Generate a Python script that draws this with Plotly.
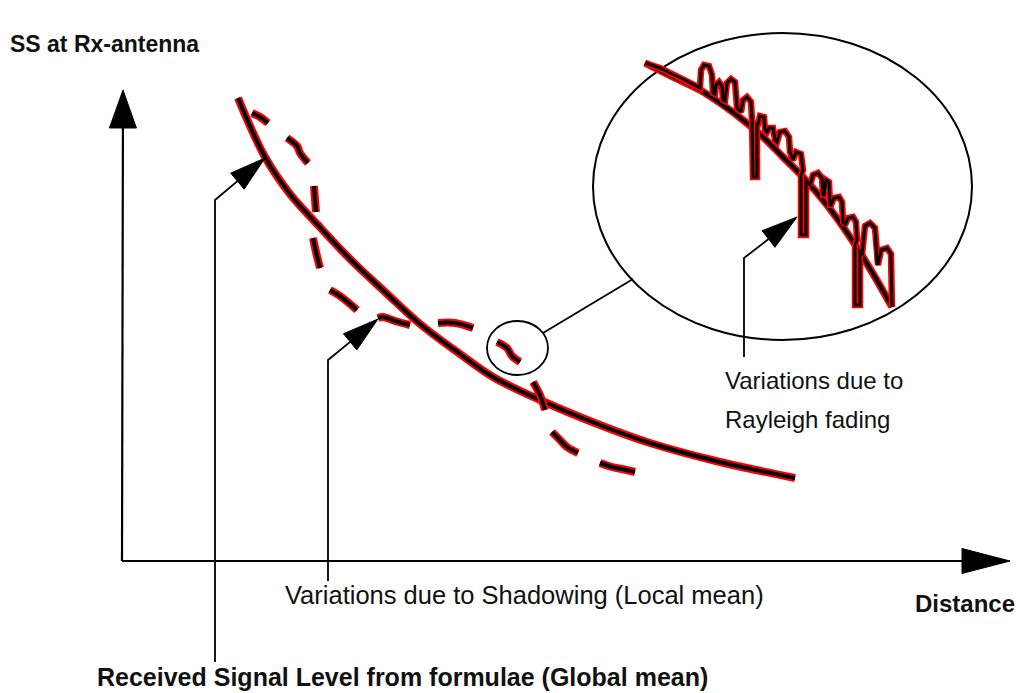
import numpy as np
import plotly.graph_objects as go

# ---- signal level curves (page coordinates: x to the right, y downward) ----
global_mean_x = [238, 265, 290, 317, 350, 385, 420, 460, 493, 540, 600, 650, 720, 795]
global_mean_y = [98, 157, 194, 224, 259, 292, 324, 354, 377, 400, 425, 443, 462, 478]

# local mean (shadowing), drawn as separate dashes
local_mean_x = [252, 260, 268, None,
                287, 297, 300, 308, None,
                314, 315, 316, None,
                313, 316, 320, None,
                330, 340, 357, None,
                378, 383, 395, 410, None,
                438, 455, 473, None,
                497, 507, 512, 520, None,
                533, 540, 545, None,
                552, 560, 567, 578, None,
                600, 612, 622, 635]
local_mean_y = [113, 117, 123, None,
                138, 146, 153, 163, None,
                186, 200, 212, None,
                238, 252, 268, None,
                290, 296, 310, None,
                318, 317, 321, 325, None,
                323, 323, 328, None,
                342, 348, 356, 362, None,
                382, 395, 410, None,
                432, 440, 447, 453, None,
                463, 467, 469, 472]

# magnified section: mean and fast (Rayleigh) fading
inset_mean_x = [645, 673, 700, 723, 743, 763, 783, 803, 827, 850, 872, 892]
inset_mean_y = [63, 77, 90, 105, 120, 137, 157, 177, 205, 237, 272, 307]

fading_x = [645, 660, 672, 685, 700,
            701, 704, 709, 712, 713,
            715, 716, 719, 722, 723,
            725, 727, 731, 735, 737,
            741, 743, 747, 751, 752,
            752, 753, 757, 757,
            758, 760, 764, 765,
            767, 769, 773, 775,
            777, 780, 785, 789, 790,
            793, 796, 801, 803,
            801, 801, 806, 806,
            810, 813, 818, 822, 823,
            824, 826, 829, 830,
            831, 834, 839, 842, 843,
            845, 848, 853, 856, 857,
            855, 855, 860, 860,
            862, 865, 870, 875, 877,
            878, 881, 887, 891, 892]
fading_y = [63, 68, 74, 80, 88,
            70, 65, 66, 75, 93,
            94, 85, 82, 86, 100,
            101, 83, 79, 82, 108,
            112, 100, 97, 102, 118,
            120, 177, 177, 124,
            124, 116, 117, 130,
            132, 128, 128, 140,
            142, 132, 131, 137, 152,
            160, 152, 154, 170,
            175, 235, 235, 180,
            185, 175, 173, 178, 195,
            195, 180, 182, 205,
            205, 198, 197, 202, 222,
            225, 218, 217, 222, 240,
            245, 305, 305, 250,
            255, 226, 223, 228, 262,
            265, 250, 248, 254, 307]

# ---- axes and pointer arrows: polyline vertices, last vertex is the tip ----
axis_y_path = ([122, 123], [561, 90])
axis_x_path = ([122, 1010], [561, 561])
pointer_global = ([215, 215, 265], [662, 200, 158])
pointer_local = ([328, 328, 378], [581, 360, 319])
pointer_fading = ([744, 744, 797], [357, 258, 217])

# arrowhead (length, half width) per arrow
head_axis_y = (38, 13.5)
head_axis_x = (48, 12.5)
head_pointer = (36, 10.5)

FONT = "Liberation Sans, Arial, sans-serif"
RED = "#ff0000"

fig = go.Figure()


def outlined(x, y, core, halo, shape="linear"):
    """Black stroke with a red halo."""
    fig.add_trace(go.Scatter(x=x, y=y, mode="lines", connectgaps=False,
                             line=dict(color=RED, width=halo, shape=shape),
                             hoverinfo="skip"))
    fig.add_trace(go.Scatter(x=x, y=y, mode="lines", connectgaps=False,
                             line=dict(color="black", width=core, shape=shape),
                             hoverinfo="skip"))


def arrow(path, head, width):
    xs, ys = path
    tip = np.array([xs[-1], ys[-1]], float)
    prev = np.array([xs[-2], ys[-2]], float)
    d = (tip - prev) / np.linalg.norm(tip - prev)
    n = np.array([-d[1], d[0]])
    length, half = head
    base = tip - d * length
    fig.add_trace(go.Scatter(x=list(xs[:-1]) + [base[0]], y=list(ys[:-1]) + [base[1]],
                             mode="lines", line=dict(color="black", width=width),
                             hoverinfo="skip"))
    tri = [tip, base + n * half, base - n * half, tip]
    fig.add_trace(go.Scatter(x=[p[0] for p in tri], y=[p[1] for p in tri],
                             mode="lines", fill="toself", fillcolor="black",
                             line=dict(color="black", width=1), hoverinfo="skip"))


# axes
arrow(axis_y_path, head_axis_y, 2.2)
arrow(axis_x_path, head_axis_x, 2.2)

# curves
outlined(global_mean_x, global_mean_y, 4, 8, "spline")
outlined(local_mean_x, local_mean_y, 4, 8, "spline")
outlined(inset_mean_x, inset_mean_y, 4, 7.5, "spline")
outlined(fading_x, fading_y, 3, 6.5)

# pointers
arrow(pointer_global, head_pointer, 1.8)
arrow(pointer_local, head_pointer, 1.8)
arrow(pointer_fading, head_pointer, 1.8)

# magnifier: small circle, connector and large circle
shapes = [
    dict(type="circle", x0=487, x1=548, y0=321, y1=375,
         line=dict(color="black", width=1.8), layer="below"),
    dict(type="line", x0=543, y0=333, x1=633, y1=279,
         line=dict(color="black", width=1.8), layer="below"),
    dict(type="circle", x0=593, x1=972, y0=33, y1=340,
         line=dict(color="black", width=2), layer="below"),
]

labels = [
    ("<b>SS at Rx-antenna</b>", 8, 44, 23),
    ("<b>Distance</b>", 913, 603, 24),
    ("Variations due to Shadowing (Local mean)", 283, 595, 25.5),
    ("<b>Received Signal Level from formulae (Global mean)</b>", 95, 677, 25),
    ("Variations due to", 723, 380, 24),
    ("Rayleigh fading", 723, 419, 24),
]
annotations = [dict(text=t, x=x, y=y, xref="x", yref="y", showarrow=False,
                    xanchor="left", yanchor="middle",
                    font=dict(family=FONT, size=s, color="#111111"))
               for t, x, y, s in labels]

fig.update_layout(
    width=1020, height=693,
    margin=dict(l=0, r=0, t=0, b=0),
    paper_bgcolor="white", plot_bgcolor="white",
    showlegend=False,
    shapes=shapes, annotations=annotations,
    xaxis=dict(range=[0, 1020], visible=False, fixedrange=True),
    yaxis=dict(range=[693, 0], visible=False, fixedrange=True),
)

fig.write_html("out.html", config=dict(displayModeBar=False))
